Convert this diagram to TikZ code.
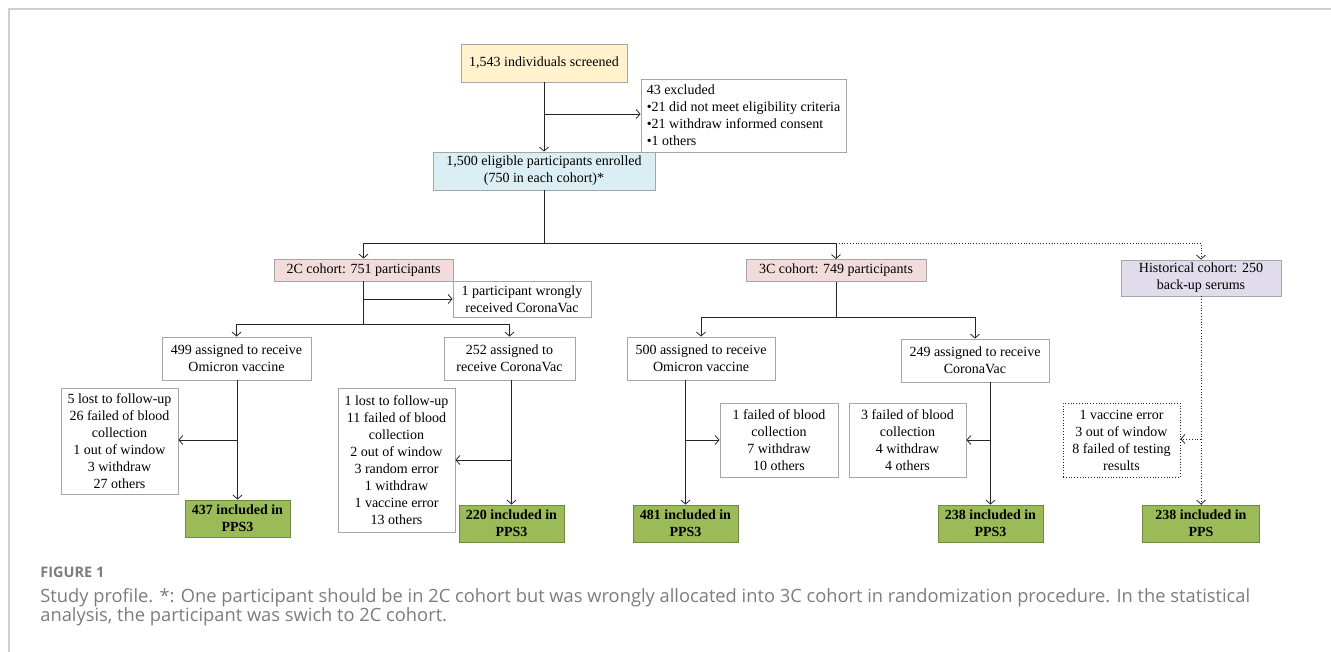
\documentclass[tikz,border=0pt]{standalone}
\usepackage{fontspec}
\setmainfont{Liberation Serif}
\newfontfamily\capfont{Open Sans}
\usetikzlibrary{arrows.meta,positioning,calc}
\definecolor{scrfill}{HTML}{FFF2CC}
\definecolor{enrfill}{HTML}{DAEEF3}
\definecolor{cohfill}{HTML}{F2DCDB}
\definecolor{histfill}{RGB}{224,220,236}
\definecolor{ppsgreen}{HTML}{9BBB59}
\definecolor{ppsdark}{HTML}{71893F}
\definecolor{boxgray}{HTML}{A6A6A6}
\definecolor{linegray}{HTML}{262626}
\definecolor{capgray}{HTML}{7C7C7C}
\definecolor{framegray}{HTML}{CFCFCF}

\begin{document}
\begin{tikzpicture}[x=1pt,y=-1pt,line width=0.8pt,
  box/.style={draw=boxgray,fill=white,align=center,inner sep=1pt,font=\fontsize{14}{17}\selectfont},
  sz/.style 2 args={minimum width=#1pt,minimum height=#2pt},
  final/.style={box,fill=ppsgreen,draw=ppsdark,font=\fontsize{14}{17}\selectfont\bfseries},
  flow/.style={draw=linegray,-{Straight Barb[length=4pt,width=9pt]}}]
\useasboundingbox (0,0) rectangle (1331,652);
\draw[framegray,line width=1.5pt] (9,652) -- (9,9) -- (1331,9);
% screening and enrolment
\node[box,fill=scrfill,sz={166}{38}] (scr) at (544,63) {1,543 individuals screened};
\node[box,sz={205}{73},align=left] (excl) at (743.5,115.5) {43 excluded\\\textbullet21 did not meet eligibility criteria\\\textbullet21 withdraw informed consent\\\textbullet1 others};
\node[box,fill=enrfill,sz={222}{38}] (enr) at (544,171) {1,500 eligible participants enrolled\\(750 in each cohort)*};
% cohorts
\node[box,fill=cohfill,sz={179}{22}] (c2) at (363.5,270) {2C cohort: 751 participants};
\node[box,sz={138}{36}] (wrong) at (522,299) {1 participant wrongly\\received CoronaVac};
\node[box,fill=cohfill,sz={180}{22}] (c3) at (836,270.5) {3C cohort: 749 participants};
\node[box,fill=histfill,sz={160}{36}] (hist) at (1201,278) {Historical cohort: 250\\back-up serums};
% assigned groups
\node[box,sz={149}{43}] (om2) at (236.5,358.5) {499 assigned to receive\\Omicron vaccine};
\node[box,sz={131}{43}] (cv2) at (509.5,358.5) {252 assigned to\\receive CoronaVac};
\node[box,sz={148}{43}] (om3) at (701,358.5) {500 assigned to receive\\Omicron vaccine};
\node[box,sz={148}{43}] (cv3) at (975,360.5) {249 assigned to receive\\CoronaVac};
% losses
\node[box,sz={117}{106}] (ex2a) at (119.5,441) {5 lost to follow-up\\26 failed of blood\\collection\\1 out of window\\3 withdraw\\27 others};
\node[box,sz={117}{144}] (ex2b) at (396.5,460) {1 lost to follow-up\\11 failed of blood\\collection\\2 out of window\\3 random error\\1 withdraw\\1 vaccine error\\13 others};
\node[box,sz={118}{74}] (ex3a) at (779,440) {1 failed of blood\\collection\\7 withdraw\\10 others};
\node[box,sz={117}{74}] (ex3b) at (907.5,440) {3 failed of blood\\collection\\4 withdraw\\4 others};
\node[box,sz={117}{74},dotted,draw=linegray] (exh) at (1121.5,440) {1 vaccine error\\3 out of window\\8 failed of testing\\results};
% per-protocol sets
\node[final,sz={105}{37}] (pps2a) at (237.5,518.5) {437 included in\\PPS3};
\node[final,sz={105}{37}] (pps2b) at (511.5,523.5) {220 included in\\PPS3};
\node[final,sz={105}{37}] (pps3a) at (685.5,523.5) {481 included in\\PPS3};
\node[final,sz={105}{37}] (pps3b) at (990.5,523.5) {238 included in\\PPS3};
\node[final,sz={117}{37}] (ppsh) at (1201,523.5) {238 included in\\PPS};
% connectors
\draw[flow] (scr) -- (enr);
\coordinate (e1) at (544,114); \draw[flow] (e1) -- (e1 -| excl.west);
\coordinate (sp) at (544,243);
\draw[linegray] (enr.south) -- (sp);
\draw[flow] (sp) -| (c2.north); \draw[flow] (sp) -| (c3.north);
\draw[flow,dotted] (c3.north |- sp) -| (hist.north);
\coordinate (s2) at (363.5,324); \coordinate (w2) at (363.5,299);
\draw[linegray] (c2.south) -- (s2);
\draw[flow] (w2) -- (w2 -| wrong.west);
\draw[flow] (s2) -| (om2.north); \draw[flow] (s2) -| (cv2.north);
\coordinate (s3) at (836,317);
\draw[linegray] (c3.south) -- (s3);
\draw[flow] (s3) -| (om3.north); \draw[flow] (s3) -| (cv3.north);
\foreach \a/\f/\e/\y/\s in {om2/pps2a/ex2a/440/east,cv2/pps2b/ex2b/460/east,om3/pps3a/ex3a/440/west,cv3/pps3b/ex3b/440/east}{
  \draw[flow] (\f.north |- \a.south) -- (\f.north);
  \draw[flow] (\f.north |- 0,\y) -- (\e.\s |- 0,\y);
}
\draw[flow,dotted] (ppsh.north |- hist.south) -- (ppsh.north);
\draw[flow,dotted] (ppsh.north |- 0,439) -- (exh.east |- 0,439);
% caption
\node[anchor=base west,inner sep=0,text=capgray,font=\capfont\bfseries\fontsize{14.5}{17}\selectfont] (figlab) at (40,577) {FIGURE 1};
\node[anchor=base west,inner sep=0,align=left,text=capgray,font=\capfont\fontsize{18.3}{19.5}\selectfont] (caption) at (40,621.5) {Study profile. *: One participant should be in 2C cohort but was wrongly allocated into 3C cohort in randomization procedure. In the statistical\\analysis, the participant was swich to 2C cohort.};
\end{tikzpicture}
\end{document}
